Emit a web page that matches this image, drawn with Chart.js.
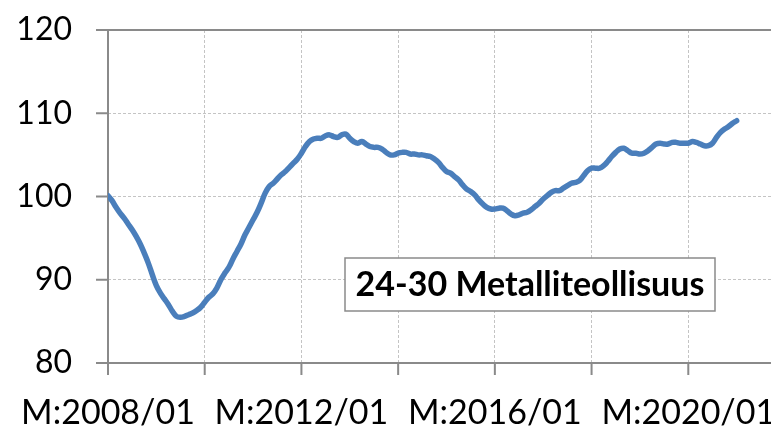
<!DOCTYPE html>
<html>
<head>
<meta charset="utf-8">
<script src="https://cdn.jsdelivr.net/npm/chart.js@4/dist/chart.umd.min.js"></script>
<style>
  html, body { margin: 0; padding: 0; background: #fff; overflow: hidden; }
  #wrap { width: 800px; height: 428px; }
</style>
</head>
<body>
<div id="wrap"><canvas id="chart" width="800" height="428"></canvas></div>
<script>
// monthly index, starting M:2008/01
const startYear = 2008;
const values = [
  100.1, 99.5, 98.7, 98.0, 97.4, 96.7, 96.0, 95.2, 94.3, 93.2, 92.0, 90.6,
  89.3, 88.4, 87.7, 87.0, 86.2, 85.6, 85.5, 85.6, 85.8, 86.0, 86.3, 86.7,
  87.3, 87.9, 88.3, 89.0, 90.0, 90.8, 91.5, 92.5, 93.4, 94.3, 95.4, 96.3,
  97.2, 98.1, 99.2, 100.4, 101.2, 101.6, 102.1, 102.6, 103.0, 103.5, 104.0, 104.5,
  105.2, 106.0, 106.6, 106.9, 107.0, 107.0, 107.3, 107.4, 107.2, 107.1, 107.4, 107.5,
  107.0, 106.6, 106.4, 106.6, 106.3, 106.0, 105.9, 105.9, 105.7, 105.3, 105.0, 105.0,
  105.2, 105.3, 105.3, 105.1, 105.1, 105.0, 105.0, 104.9, 104.8, 104.5, 104.1, 103.5,
  103.0, 102.8, 102.4, 102.0, 101.4, 100.9, 100.6, 100.2, 99.6, 99.1, 98.7, 98.5,
  98.5, 98.6, 98.6, 98.3, 97.9, 97.7, 97.8, 98.0, 98.1, 98.4, 98.8, 99.2,
  99.7, 100.1, 100.5, 100.7, 100.7, 101.0, 101.3, 101.6, 101.7, 101.9, 102.5, 103.1,
  103.4, 103.4, 103.4, 103.7, 104.2, 104.8, 105.3, 105.7, 105.8, 105.5, 105.2, 105.2,
  105.1, 105.2, 105.5, 105.9, 106.3, 106.4, 106.3, 106.3, 106.5, 106.5, 106.4, 106.4,
  106.4, 106.6, 106.5, 106.3, 106.1, 106.1, 106.4, 107.1, 107.7, 108.1, 108.4, 108.8,
  109.1
];
const yTicks = [80, 90, 100, 110, 120];
const xTickLabels = ['M:2008/01', 'M:2012/01', 'M:2016/01', 'M:2020/01'];
const title = '24-30 Metalliteollisuus';

const axisColor = '#8a8a8a';
const gridColor = '#c4c4c4';
const fontFamily = 'Lato, "Liberation Sans", sans-serif';

let points = [];
for (let i = 0; i < values.length; i++) {
  points.push({x: i, y: values[i]});
}

// solid axes, tick marks and the text box, excel style
const frame = {
  id: 'frame',
  beforeDatasetsDraw: function(chart) {
    const ctx = chart.ctx;
    const a = chart.chartArea;
    const xs = chart.scales.x, ys = chart.scales.y;
    ctx.save();
    ctx.strokeStyle = axisColor;
    ctx.lineWidth = 2;
    ctx.beginPath();
    ctx.moveTo(a.left - 12, a.top); ctx.lineTo(chart.width, a.top);
    ctx.moveTo(a.left - 12, a.bottom); ctx.lineTo(chart.width, a.bottom);
    ctx.moveTo(a.left, a.top); ctx.lineTo(a.left, a.bottom + 12);
    for (const v of yTicks) {
      const y = ys.getPixelForValue(v);
      ctx.moveTo(a.left - 12, y); ctx.lineTo(a.left, y);
    }
    for (const t of xs.ticks) {
      const x = xs.getPixelForValue(t.value);
      ctx.moveTo(x, a.bottom); ctx.lineTo(x, a.bottom + 12);
    }
    ctx.stroke();
    ctx.restore();
  },
  afterDraw: function(chart) {
    const ctx = chart.ctx;
    const a = chart.chartArea;
    const bx = a.left + 237, by = 258, bw = 370, bh = 53;
    ctx.save();
    ctx.fillStyle = '#fff';
    ctx.fillRect(bx, by, bw, bh);
    ctx.strokeStyle = '#8a8a8a';
    ctx.lineWidth = 1.5;
    ctx.strokeRect(bx, by, bw, bh);
    ctx.fillStyle = '#000';
    ctx.font = 'bold 34px ' + fontFamily;
    ctx.textAlign = 'center';
    ctx.textBaseline = 'middle';
    ctx.fillText(title, bx + bw / 2, by + bh / 2 + 1);
    ctx.restore();
  }
};

new Chart(document.getElementById('chart'), {
  type: 'line',
  data: {
    datasets: [{
      data: points,
      borderColor: '#4a7ebb',
      borderWidth: 5.5,
      pointRadius: 0,
      tension: 0.4,
      borderCapStyle: 'round',
      borderJoinStyle: 'round',
      fill: false
    }]
  },
  options: {
    responsive: false,
    animation: false,
    layout: { padding: { left: 0, top: 30, right: 15, bottom: 0 } },
    plugins: { legend: { display: false }, tooltip: { enabled: false } },
    scales: {
      x: {
        type: 'linear',
        min: 0,
        max: 168,
        afterFit: function(scale) { scale.height = 65; },
        border: { display: false, dash: [3, 2] },
        grid: {
          // invisible tick marks used only as label offset
          drawTicks: true,
          tickLength: 30,
          tickColor: 'transparent',
          color: function(c) { return c.tick && c.tick.value === 0 ? 'transparent' : gridColor; },
          lineWidth: 1
        },
        ticks: {
          stepSize: 24,
          autoSkip: false,
          maxRotation: 0,
          padding: 0,
          color: '#000',
          font: { family: fontFamily, size: 34 },
          callback: function(v) {
            return v % 48 === 0 ? xTickLabels[v / 48] || '' : '';
          }
        }
      },
      y: {
        min: 80,
        max: 120,
        afterFit: function(scale) { scale.width = 108; },
        border: { display: false, dash: [3, 2] },
        grid: {
          drawTicks: true,
          tickLength: 36,
          tickColor: 'transparent',
          color: function(c) {
            return c.tick && (c.tick.value === 80 || c.tick.value === 120) ? 'transparent' : gridColor;
          },
          lineWidth: 1
        },
        ticks: {
          stepSize: 10,
          padding: 0,
          color: '#000',
          font: { family: fontFamily, size: 32 }
        }
      }
    }
  },
  plugins: [frame]
});
</script>
</body>
</html>
